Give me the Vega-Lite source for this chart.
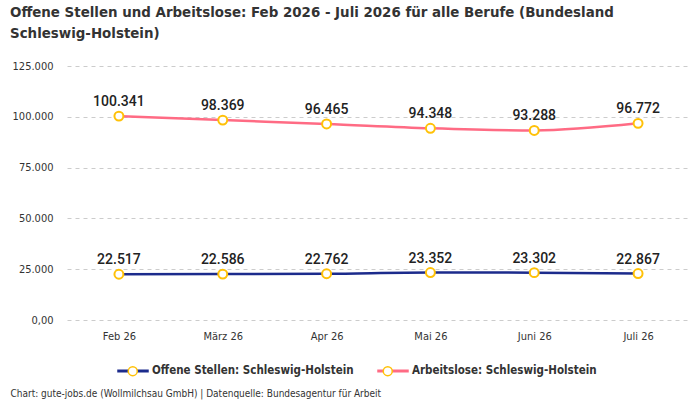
{
  "$schema": "https://vega.github.io/schema/vega-lite/v6.json",
  "width": 623,
  "height": 254,
  "autosize": {"type": "none"},
  "padding": {"left": 67, "top": 66, "right": 10, "bottom": 80},
  "background": "white",
  "title": {
    "text": ["Offene Stellen und Arbeitslose: Feb 2026 - Juli 2026 für alle Berufe (Bundesland", "Schleswig-Holstein)"],
    "anchor": "start",
    "frame": "group",
    "dx": -57,
    "offset": 19,
    "fontSize": 14.9,
    "fontWeight": "bold",
    "font": "Liberation Sans Narrow, DejaVu Sans Condensed, Roboto",
    "color": "#333333",
    "lineHeight": 21
  },
  "data": {
    "values": [
      {"monat": "Feb 26", "reihe": "Offene Stellen: Schleswig-Holstein", "wert": 22517},
      {"monat": "März 26", "reihe": "Offene Stellen: Schleswig-Holstein", "wert": 22586},
      {"monat": "Apr 26", "reihe": "Offene Stellen: Schleswig-Holstein", "wert": 22762},
      {"monat": "Mai 26", "reihe": "Offene Stellen: Schleswig-Holstein", "wert": 23352},
      {"monat": "Juni 26", "reihe": "Offene Stellen: Schleswig-Holstein", "wert": 23302},
      {"monat": "Juli 26", "reihe": "Offene Stellen: Schleswig-Holstein", "wert": 22867},
      {"monat": "Feb 26", "reihe": "Arbeitslose: Schleswig-Holstein", "wert": 100341},
      {"monat": "März 26", "reihe": "Arbeitslose: Schleswig-Holstein", "wert": 98369},
      {"monat": "Apr 26", "reihe": "Arbeitslose: Schleswig-Holstein", "wert": 96465},
      {"monat": "Mai 26", "reihe": "Arbeitslose: Schleswig-Holstein", "wert": 94348},
      {"monat": "Juni 26", "reihe": "Arbeitslose: Schleswig-Holstein", "wert": 93288},
      {"monat": "Juli 26", "reihe": "Arbeitslose: Schleswig-Holstein", "wert": 96772}
    ]
  },
  "encoding": {
    "x": {
      "field": "monat",
      "type": "ordinal",
      "sort": ["Feb 26", "März 26", "Apr 26", "Mai 26", "Juni 26", "Juli 26"],
      "scale": {"type": "point", "padding": 0.5},
      "axis": {
        "title": "Chart: gute-jobs.de (Wollmilchsau GmbH) | Datenquelle: Bundesagentur für Arbeit",
        "titleX": -57,
        "titleY": 73,
        "titleAlign": "left",
        "titleBaseline": "middle",
        "titleFontSize": 10,
        "titleFontWeight": "normal",
        "titleColor": "#333333",
        "titleFont": "Liberation Sans Narrow, DejaVu Sans Condensed, Roboto",
        "labelAngle": 0,
        "labelPadding": 10,
        "labelFontSize": 11,
        "labelColor": "#333333",
        "labelFont": "Liberation Sans Narrow, DejaVu Sans Condensed, Roboto",
        "ticks": false,
        "domain": false,
        "grid": false
      }
    },
    "y": {
      "field": "wert",
      "type": "quantitative",
      "scale": {"domain": [0, 125000], "nice": false},
      "axis": {
        "title": null,
        "values": [0, 25000, 50000, 75000, 100000, 125000],
        "format": ",.0f",
        "labelExpr": "datum.value === 0 ? '0,00' : datum.label",
        "labelPadding": 14,
        "labelFontSize": 11,
        "labelColor": "#333333",
        "labelFont": "Liberation Sans Narrow, DejaVu Sans Condensed, Roboto",
        "ticks": false,
        "domain": false,
        "grid": true,
        "gridColor": "#cccccc",
        "gridDash": [4, 4],
        "gridWidth": 1
      }
    }
  },
  "layer": [
    {
      "mark": {"type": "line", "interpolate": "monotone", "strokeWidth": 2.5},
      "encoding": {
        "color": {
          "field": "reihe",
          "type": "nominal",
          "scale": {
            "domain": ["Offene Stellen: Schleswig-Holstein", "Arbeitslose: Schleswig-Holstein"],
            "range": ["#1c2b8c", "#ff6b84"]
          },
          "legend": {
            "title": null,
            "orient": "none",
            "legendX": 60,
            "legendY": 299,
            "direction": "horizontal",
            "padding": 0,
            "symbolType": "M-3.5,0L3.5,0",
            "symbolSize": 81,
            "symbolStrokeWidth": 3,
            "labelOffset": 13,
            "columnPadding": 17,
            "labelFontSize": 11.5,
            "labelFontWeight": "bold",
            "labelColor": "#333333",
            "labelFont": "Liberation Sans Narrow, DejaVu Sans Condensed, Roboto",
            "labelLimit": 400
          }
        }
      }
    },
    {
      "mark": {"type": "point", "filled": false, "size": 80, "strokeWidth": 2, "color": "#ffc107", "fill": "white", "fillOpacity": 1, "opacity": 1},
      "encoding": {
        "shape": {
          "field": "reihe",
          "type": "nominal",
          "sort": ["Offene Stellen: Schleswig-Holstein", "Arbeitslose: Schleswig-Holstein"],
          "scale": {"range": ["circle", "circle"]},
          "legend": {
            "title": null,
            "orient": "none",
            "legendX": 60,
            "legendY": 299,
            "direction": "horizontal",
            "padding": 0,
            "symbolType": "circle",
            "symbolSize": 81,
            "labelOffset": 13,
            "columnPadding": 228,
            "labelExpr": "''",
            "labelFontSize": 11.5,
            "labelFont": "Liberation Sans Narrow, DejaVu Sans Condensed, Roboto",
            "encode": {
              "symbols": {
                "update": {
                  "stroke": {"value": "#ffc107"},
                  "fill": {"value": "white"},
                  "strokeWidth": {"value": 2},
                  "opacity": {"value": 1},
                  "fillOpacity": {"value": 1},
                  "strokeOpacity": {"value": 1}
                }
              }
            }
          }
        }
      }
    },
    {
      "mark": {"type": "text", "dy": -14, "fontSize": 14, "fontWeight": 500, "color": "#222222", "font": "Roboto, Noto Sans, sans-serif"},
      "encoding": {
        "text": {"field": "wert", "type": "quantitative", "format": ",.0f"}
      }
    }
  ],
  "resolve": {
    "scale": {"color": "independent", "shape": "independent"},
    "legend": {"color": "independent", "shape": "independent"}
  },
  "config": {
    "view": {"stroke": null},
    "locale": {
      "number": {"decimal": ",", "thousands": ".", "grouping": [3], "currency": ["", " €"]}
    }
  }
}
